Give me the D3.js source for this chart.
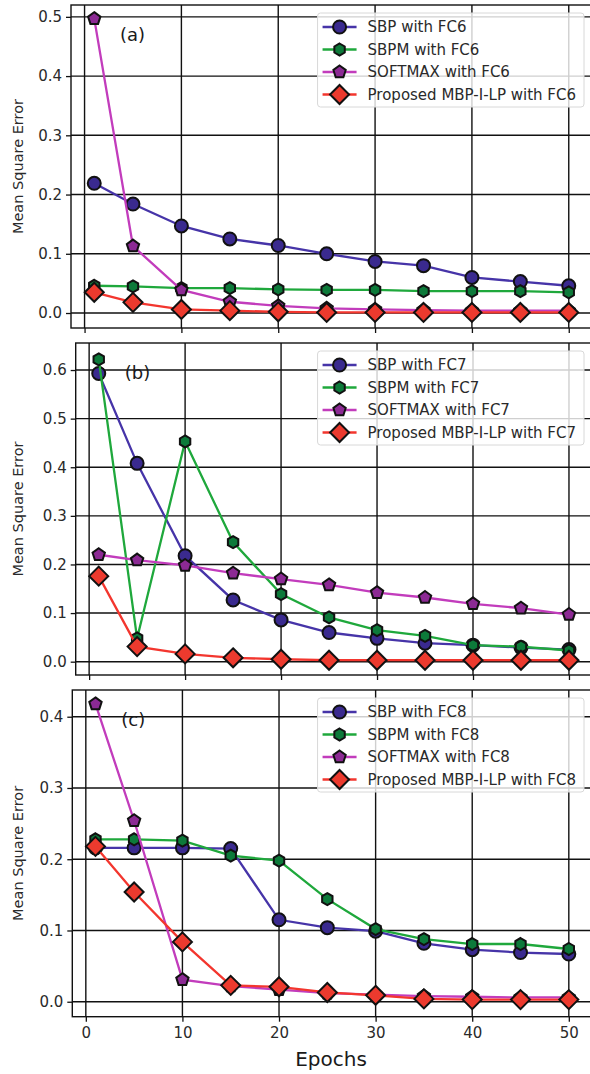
<!DOCTYPE html>
<html>
<head>
<meta charset="utf-8">
<script src="https://cdn.jsdelivr.net/npm/d3@7"></script>
<style>
  body { margin: 0; background: #fff; }
  svg { display: block; font-family: "DejaVu Sans", sans-serif; }
</style>
</head>
<body>
<div id="chart"></div>
<script>
// data
var epochs = [1, 5, 10, 15, 20, 25, 30, 35, 40, 45, 50];

// (a) FC6
var sbpA      = [0.219, 0.184, 0.147, 0.125, 0.114, 0.100, 0.087, 0.080, 0.060, 0.053, 0.046];
var sbpmA     = [0.046, 0.045, 0.042, 0.042, 0.040, 0.039, 0.039, 0.037, 0.037, 0.037, 0.035];
var softmaxA  = [0.497, 0.113, 0.039, 0.019, 0.012, 0.008, 0.006, 0.005, 0.004, 0.004, 0.004];
var proposedA = [0.035, 0.018, 0.006, 0.004, 0.002, 0.001, 0.001, 0.001, 0.001, 0.001, 0.001];

// (b) FC7
var sbpB      = [0.593, 0.408, 0.218, 0.127, 0.086, 0.060, 0.048, 0.038, 0.034, 0.029, 0.025];
var sbpmB     = [0.622, 0.048, 0.453, 0.246, 0.139, 0.091, 0.065, 0.053, 0.034, 0.031, 0.023];
var softmaxB  = [0.220, 0.209, 0.198, 0.182, 0.170, 0.158, 0.142, 0.132, 0.119, 0.110, 0.097];
var proposedB = [0.176, 0.031, 0.016, 0.008, 0.005, 0.003, 0.003, 0.003, 0.003, 0.003, 0.003];

// (c) FC8
var sbpC      = [0.216, 0.216, 0.216, 0.215, 0.115, 0.104, 0.099, 0.082, 0.073, 0.069, 0.067];
var sbpmC     = [0.228, 0.228, 0.226, 0.205, 0.198, 0.144, 0.102, 0.088, 0.081, 0.081, 0.074];
var softmaxC  = [0.418, 0.254, 0.031, 0.022, 0.017, 0.012, 0.010, 0.008, 0.007, 0.006, 0.006];
var proposedC = [0.218, 0.154, 0.084, 0.023, 0.021, 0.013, 0.009, 0.004, 0.003, 0.003, 0.003];

var xTicks = [0, 10, 20, 30, 40, 50];
var yTicksA = [0, 0.1, 0.2, 0.3, 0.4, 0.5];
var yTicksB = [0, 0.1, 0.2, 0.3, 0.4, 0.5, 0.6];
var yTicksC = [0, 0.1, 0.2, 0.3, 0.4];
var seriesNames = ["SBP", "SBPM", "SOFTMAX", "Proposed MBP-I-LP"];

var width = 590, height = 1074;

// styles per series
var styles = [
    { line: "#4634a8", fill: "#3a2a8f", shape: "circle",  r: 6.5 },
    { line: "#1fa83c", fill: "#0d7a3a", shape: "hexagon", r: 6 },
    { line: "#c23cbc", fill: "#8c2a94", shape: "pentagon", r: 6.5 },
    { line: "#f3362e", fill: "#ec3a2e", shape: "diamond", r: 9.5 }
];

var panels = [
    { tag: "(a)", fc: "FC6", values: [sbpA, sbpmA, softmaxA, proposedA], yTicks: yTicksA,
      yDomain: [-0.0253, 0.520], left: 71, top: 5, bottom: 328 },
    { tag: "(b)", fc: "FC7", values: [sbpB, sbpmB, softmaxB, proposedB], yTicks: yTicksB,
      yDomain: [-0.0274, 0.6556], left: 75.7, top: 343, bottom: 675 },
    { tag: "(c)", fc: "FC8", values: [sbpC, sbpmC, softmaxC, proposedC], yTicks: yTicksC,
      yDomain: [-0.021, 0.4375], left: 72.3, top: 690, bottom: 1016.7 }
];

function polygon(n, r, rot) {
    var pts = [];
    for (var i = 0; i < n; i++) {
        var a = rot + i * 2 * Math.PI / n;
        pts.push([r * Math.cos(a), r * Math.sin(a)]);
    }
    return "M" + pts.map(function (p) { return p[0].toFixed(2) + "," + p[1].toFixed(2); }).join("L") + "Z";
}

function markerPath(st) {
    if (st.shape == "circle") return d3.symbol(d3.symbolCircle, Math.PI * st.r * st.r)();
    if (st.shape == "hexagon") return polygon(6, st.r, -Math.PI / 2);
    if (st.shape == "pentagon") return polygon(5, st.r, -Math.PI / 2);
    return polygon(4, st.r, -Math.PI / 2);
}

var svg = d3.select("#chart").append("svg")
            .attr("width", width)
            .attr("height", height);
svg.append("rect").attr("width", width).attr("height", height).attr("fill", "#fff");

panels.forEach(function (p, pi) {
    var right = 592;
    var x = d3.scaleLinear().domain([-1.4, 52.4]).range([p.left, right]);
    var y = d3.scaleLinear().domain(p.yDomain).range([p.bottom, p.top]);
    var g = svg.append("g");

    var clipId = "clip" + pi;
    svg.append("clipPath").attr("id", clipId)
       .append("rect")
       .attr("x", p.left).attr("y", p.top)
       .attr("width", right - p.left).attr("height", p.bottom - p.top);

    // grid
    g.selectAll(".gx").data(xTicks).enter().append("line")
     .attr("x1", d => x(d)).attr("x2", d => x(d))
     .attr("y1", p.top).attr("y2", p.bottom)
     .attr("stroke", "#111").attr("stroke-width", 1.4);
    g.selectAll(".gy").data(p.yTicks).enter().append("line")
     .attr("x1", p.left).attr("x2", right)
     .attr("y1", d => y(d)).attr("y2", d => y(d))
     .attr("stroke", "#111").attr("stroke-width", 1.4);

    // axes (ticks outside)
    var xAxis = d3.axisBottom(x).tickValues(xTicks).tickSize(5).tickPadding(6)
                  .tickFormat(pi == 2 ? d3.format("d") : "");
    var ax = g.append("g").attr("transform", "translate(0," + p.bottom + ")").call(xAxis);
    var yAxis = d3.axisLeft(y).tickValues(p.yTicks).tickSize(5).tickPadding(4)
                  .tickFormat(d3.format(".1f"));
    var ay = g.append("g").attr("transform", "translate(" + p.left + ",0)").call(yAxis);
    [ax, ay].forEach(function (a) {
        a.select(".domain").remove();
        a.selectAll(".tick line").attr("stroke", "#111").attr("stroke-width", 1.3);
        a.selectAll(".tick text").attr("fill", "#2a2a2a")
         .style("font-size", "15px").style("font-family", "DejaVu Sans");
    });

    // frame
    g.append("rect")
     .attr("x", p.left).attr("y", p.top)
     .attr("width", right - p.left).attr("height", p.bottom - p.top)
     .attr("fill", "none").attr("stroke", "#111").attr("stroke-width", 1.4);

    // y label
    g.append("text")
     .attr("transform", "translate(18," + ((p.top + p.bottom) / 2) + ") rotate(-90)")
     .attr("text-anchor", "middle")
     .attr("dominant-baseline", "central")
     .attr("fill", "#2a2a2a")
     .style("font-size", "14.5px")
     .text("Mean Square Error");

    // series
    var plot = g.append("g").attr("clip-path", "url(#" + clipId + ")");
    var line = d3.line().x(function (d, i) { return x(epochs[i]); }).y(function (d) { return y(d); });
    p.values.forEach(function (vals, si) {
        var st = styles[si];
        plot.append("path").datum(vals)
            .attr("d", line)
            .attr("fill", "none")
            .attr("stroke", st.line)
            .attr("stroke-width", 2.3);
        plot.selectAll(".m" + si).data(vals).enter().append("path")
            .attr("d", markerPath(st))
            .attr("transform", function (d, i) { return "translate(" + x(epochs[i]) + "," + y(d) + ")"; })
            .attr("fill", st.fill)
            .attr("stroke", "#111")
            .attr("stroke-width", 2);
    });

    // panel tag
    g.append("text")
     .attr("x", p.left + 49).attr("y", p.top + 36)
     .attr("fill", "#1a1a1a")
     .style("font-size", "18px")
     .text(p.tag);

    // legend
    var lg = g.append("g");
    var rowH = 22.5, boxTop = p.top + 8, boxRight = right - 8;
    var box = lg.append("rect");
    var texts = [];
    var items = lg.selectAll(".item").data(seriesNames).enter().append("g");
    items.append("text")
         .attr("y", function (d, i) { return boxTop + 14 + i * rowH; })
         .attr("dominant-baseline", "central")
         .attr("fill", "#2a2a2a")
         .style("font-size", "15px")
         .text(function (d) { return d + " with " + p.fc; });
    var maxW = d3.max(items.selectAll("text").nodes(), function (n) { return n.getComputedTextLength(); });
    var boxLeft = boxRight - (maxW + 58);
    items.select("text").attr("x", boxLeft + 50);
    items.append("line")
         .attr("x1", boxLeft + 5).attr("x2", boxLeft + 39)
         .attr("y1", function (d, i) { return boxTop + 14 + i * rowH; })
         .attr("y2", function (d, i) { return boxTop + 14 + i * rowH; })
         .attr("stroke", function (d, i) { return styles[i].line; })
         .attr("stroke-width", 2.3);
    items.append("path")
         .attr("d", function (d, i) { return markerPath(styles[i]); })
         .attr("transform", function (d, i) { return "translate(" + (boxLeft + 22) + "," + (boxTop + 14 + i * rowH) + ")"; })
         .attr("fill", function (d, i) { return styles[i].fill; })
         .attr("stroke", "#111").attr("stroke-width", 2);
    box.attr("x", boxLeft).attr("y", boxTop)
       .attr("width", boxRight - boxLeft).attr("height", rowH * 4 + 4)
       .attr("rx", 3)
       .attr("fill", "#fff").attr("fill-opacity", 0.8)
       .attr("stroke", "#d8d8d8").attr("stroke-width", 1);
});

// x label
svg.append("text")
   .attr("x", 331).attr("y", 1066)
   .attr("text-anchor", "middle")
   .attr("fill", "#1a1a1a")
   .style("font-size", "20px")
   .text("Epochs");
</script>
</body>
</html>
